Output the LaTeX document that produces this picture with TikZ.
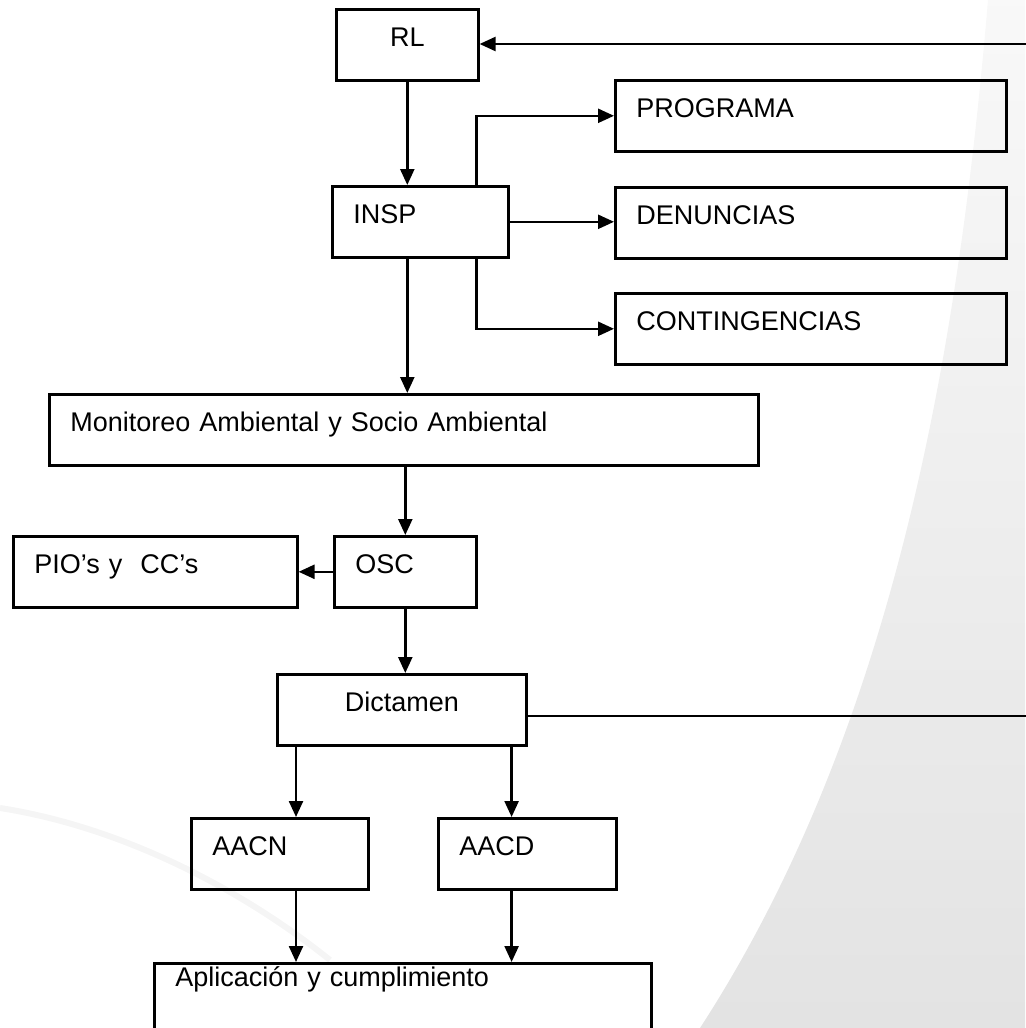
\documentclass[tikz,border=0pt]{standalone}
\usepackage{fontspec}
\setmainfont{Liberation Sans}
\usetikzlibrary{arrows.meta,positioning,calc}

\tikzset{
  caja/.style={rectangle, draw, line width=1.3pt, anchor=north west, inner xsep=10.5pt, inner ysep=0pt,
    text height=18.5pt, text depth=17pt, align=left, font=\fontsize{13.5}{16}\selectfont},
  flecha/.style={line width=1.2pt, -{Triangle[length=8pt,width=7pt]}},
  linea/.style={line width=1.2pt},
}

\begin{document}
\begin{tikzpicture}[x=0.5pt, y=-0.5pt]
\useasboundingbox (0,0) rectangle (1025,1028);
% fondo
\shade[top color=gray!5, bottom color=gray!22] (988,0) .. controls (960,330) and (900,720) .. (700,1028) -- (1025,1028) -- (1025,0) -- cycle;
\draw[gray!8, line width=3pt] (0,808) .. controls (110,825) and (230,880) .. (330,960);

\node[caja, text width=50pt, align=center] (rl) at (335,8) {RL};
\node[caja, text width=174.5pt] (programa) at (614,79) {PROGRAMA};
\node[caja, text width=67pt] (insp) at (331,185) {INSP};
\node[caja, text width=174.5pt] (denuncias) at (614,186) {DENUNCIAS};
\node[caja, text width=174.5pt] (contingencias) at (614,292) {CONTINGENCIAS};
\node[caja, text width=333.5pt] (monitoreo) at (48,393) {Monitoreo Ambiental y Socio Ambiental};
\node[caja, text width=121pt] (pio) at (12,535) {PIO’s y\ \ CC’s};
\node[caja, text width=50pt] (osc) at (333,535) {OSC};
\node[caja, text width=103.5pt, align=center] (dictamen) at (276,673) {Dictamen};
\node[caja, text width=67.5pt] (aacn) at (190,817) {AACN};
\node[caja, text width=68pt] (aacd) at (437,817) {AACD};
\node[caja, text width=227.5pt, text height=11.5pt, text depth=24pt] (aplicacion) at (153,962) {Aplicación y cumplimiento};

\coordinate (retorno) at (1030,44);
\coordinate (salida) at (1030,716);

\draw[flecha] (retorno) -- (rl.east |- retorno);
\draw[linea] (dictamen.east |- salida) -- (salida);
\draw[flecha] (rl.south) -- (rl.south |- insp.north);
\draw[flecha] ($(insp.north east)+(-33,0)$) |- (programa.west);
\draw[flecha] (insp.east) -- (insp.east -| denuncias.west);
\draw[flecha] ($(insp.south east)+(-33,0)$) |- (contingencias.west);
\draw[flecha] (rl.south |- insp.south) -- (rl.south |- monitoreo.north);
\draw[flecha] (osc.north |- monitoreo.south) -- (osc.north);
\draw[flecha] (osc.west) -- (pio.east);
\draw[flecha] (osc.south) -- (osc.south |- dictamen.north);
\draw[flecha] ($(dictamen.south west)+(20,0)$) coordinate (izq) -- (izq |- aacn.north);
\draw[flecha] ($(dictamen.south east)+(-16,0)$) coordinate (der) -- (der |- aacd.north);
\draw[flecha] (izq |- aacn.south) -- (izq |- aplicacion.north);
\draw[flecha] (der |- aacd.south) -- (der |- aplicacion.north);
\end{tikzpicture}
\end{document}
